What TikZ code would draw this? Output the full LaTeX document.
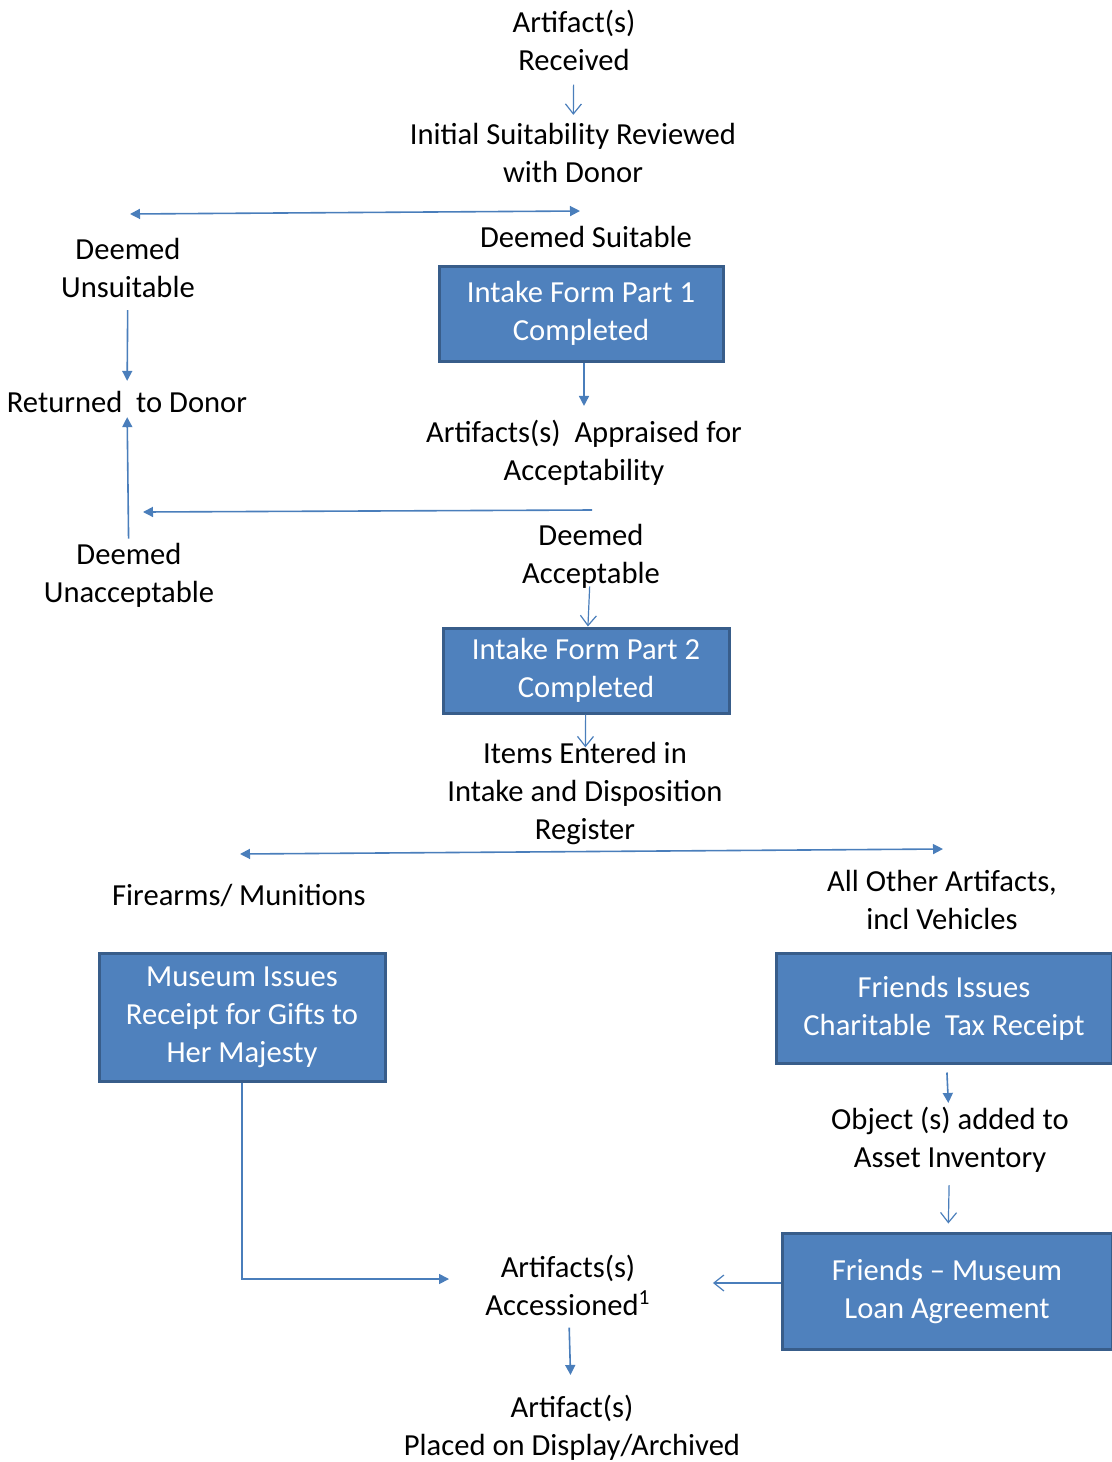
\documentclass[tikz,border=0pt]{standalone}
\usepackage{fontspec}
\setmainfont{Carlito}
\usepackage{tikz}
\usetikzlibrary{arrows.meta, positioning}
\definecolor{boxblue}{HTML}{4F81BD}
\definecolor{boxedge}{HTML}{385D8A}
\definecolor{lineblue}{HTML}{4A7EBB}
\tikzstyle{formbox} = [draw=boxedge, line width=1.5pt, fill=boxblue, text=white, align=center]
\tikzstyle{txt} = [align=center, inner sep=2pt]
\tikzstyle{arrow} = [lineblue, line width=0.8pt, -{Triangle[length=5pt,width=5pt]}]
\tikzstyle{dblarrow} = [lineblue, line width=0.8pt, {Triangle[length=5pt,width=5pt]}-{Triangle[length=5pt,width=5pt]}]
\tikzstyle{openarrow} = [lineblue, line width=0.6pt, -{Straight Barb[length=5pt,width=8pt]}]

\begin{document}
\begin{tikzpicture}[x=0.5pt, y=-0.5pt, font=\fontsize{15.3}{19}\selectfont]
        \useasboundingbox (0,0) rectangle (1112,1462);
        \node[txt] (recv) at (574,40) {Artifact(s)\\Received};
        \node[txt] (init) at (573,153) {Initial Suitability Reviewed\\with Donor};
        \node[txt] (suit) at (586,237) {Deemed Suitable};
        \node[txt] (unsuit) at (128,268) {Deemed\\Unsuitable};
        \node[formbox, minimum width=142pt, minimum height=47.5pt] (part1) at (581,313.5) {Intake Form Part 1\\Completed};
        \node[txt] (returned) at (127,402) {Returned~ to Donor};
        \node[txt] (apprais) at (584,453) {Artifacts(s)~ Appraised for\\Acceptability};
        \node[txt] (unacc) at (129,575) {Deemed\\Unacceptable};
        \node[txt] (accept) at (591,556) {Deemed\\Acceptable};
        \node[formbox, minimum width=143pt, minimum height=42.5pt] (part2) at (586,670.5) {Intake Form Part 2\\Completed};
        \node[txt] (register) at (585,793) {Items Entered in\\Intake and Disposition\\Register};
        \node[txt] (firearms) at (239,896) {Firearms/ Munitions};
        \node[txt] (others) at (942,900) {All Other Artifacts,\\incl Vehicles};
        \node[formbox, minimum width=143pt, minimum height=64pt] (museum) at (242,1017) {Museum Issues\\Receipt for Gifts to\\Her Majesty};
        \node[formbox, minimum width=168pt, minimum height=55pt] (friends) at (944,1008) {Friends Issues\\Charitable~ Tax Receipt};
        \node[txt] (asset) at (950,1140) {Object (s) added to\\Asset Inventory};
        \node[formbox, minimum width=165pt, minimum height=58pt] (loan) at (947,1291) {Friends -- Museum\\Loan Agreement};
        \node[txt] (accession) at (568,1285) {Artifacts(s)\\Accessioned\textsuperscript{1}};
        \node[txt] (display) at (572,1428) {Artifact(s)\\Placed on Display/Archived};
        % loose ends of the split arrows
        \coordinate (splitAl) at (130,214);
        \coordinate (splitAr) at (580,211);
        \coordinate (rejectr) at (592,510);
        \coordinate (rejectl) at (143,512);
        \coordinate (splitBl) at (240,854);
        \coordinate (splitBr) at (943,849);
        \draw[openarrow, shorten <=5pt, shorten >=2pt] (recv) -- (init);
        \draw[dblarrow] (splitAl) -- (splitAr);
        \draw[arrow, shorten <=4pt, shorten >=3pt] (unsuit) -- (returned);
        \draw[arrow, shorten >=5pt] (part1.south -| apprais) -- (apprais);
        \draw[arrow] (rejectr) -- (rejectl);
        \draw[arrow] (unacc) -- (returned);
        \draw[openarrow, shorten <=-3pt] (accept) -- (part2);
        \draw[openarrow, shorten >=-5pt] (part2) -- (register);
        \draw[dblarrow] (splitBl) -- (splitBr);
        \draw[arrow, shorten >=16pt] (museum.south) |- ([yshift=3pt]accession.west);
        \draw[arrow, shorten <=4pt] (friends) -- (asset);
        \draw[openarrow, shorten <=4pt, shorten >=4pt] (asset) -- (loan);
        \draw[openarrow, shorten >=29pt] ([yshift=4pt]loan.west) -- ([yshift=4pt]loan.west -| accession.east);
        \draw[arrow, shorten <=4pt, shorten >=8pt] (accession) -- (display);
      \end{tikzpicture}
\end{document}
